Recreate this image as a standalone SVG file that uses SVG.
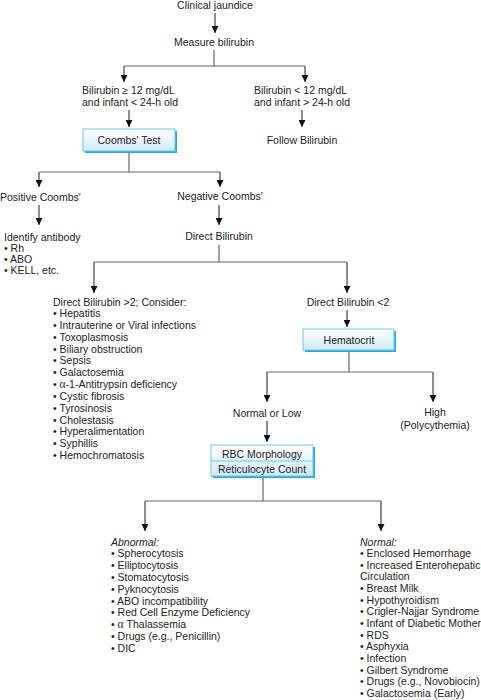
<svg xmlns="http://www.w3.org/2000/svg" width="481" height="700" viewBox="0 0 481 700">
<defs>
<linearGradient id="boxfill" x1="0" y1="0" x2="0" y2="1">
<stop offset="0" stop-color="#ffffff"/>
<stop offset="1" stop-color="#cfeaf8"/>
</linearGradient>
<marker id="arr" markerWidth="7" markerHeight="7" refX="7" refY="3.5" orient="auto" markerUnits="userSpaceOnUse">
<path d="M0,0 L7,3.5 L0,7 z" fill="#111"/>
</marker>
</defs>
<style>
text{font-family:"Liberation Sans",Arial,sans-serif;font-size:10.5px;fill:#222}
.c{text-anchor:middle}
.i{font-style:italic}
.g{font-family:"Liberation Serif","Times New Roman",serif;font-size:11.5px}
.ln{fill:none;stroke:#666;stroke-width:1.2}
.ar{fill:none;stroke:#444;stroke-width:1.2;marker-end:url(#arr)}
.sh{fill:#2aa7e0}
.bx{fill:url(#boxfill);stroke:#6cc8ee;stroke-width:1}
</style>
<rect width="481" height="700" fill="#fff"/>

<g id="connectors">
<line class="ar" x1="215" y1="13" x2="215" y2="33"/>
<polyline class="ln" points="214,50 214,66"/>
<polyline class="ar" points="124,66 124,82"/>
<line class="ln" x1="124" y1="66" x2="305" y2="66"/>
<polyline class="ar" points="305,66 305,82"/>
<line class="ar" x1="129" y1="110" x2="129" y2="127"/>
<line class="ar" x1="302" y1="110" x2="302" y2="127"/>
<line class="ln" x1="129" y1="152" x2="129" y2="172"/>
<line class="ln" x1="39" y1="172" x2="220" y2="172"/>
<polyline class="ar" points="39,172 39,187"/>
<polyline class="ar" points="220,172 220,187"/>
<line class="ar" x1="39" y1="205" x2="39" y2="225"/>
<line class="ar" x1="219" y1="205" x2="219" y2="225"/>
<line class="ln" x1="219" y1="245" x2="219" y2="262"/>
<line class="ln" x1="94" y1="262" x2="347" y2="262"/>
<polyline class="ar" points="94,262 94,293"/>
<polyline class="ar" points="347,262 347,293"/>
<line class="ar" x1="347" y1="310" x2="347" y2="327"/>
<line class="ln" x1="349" y1="351" x2="349" y2="372"/>
<line class="ln" x1="267" y1="372" x2="433" y2="372"/>
<polyline class="ar" points="267,372 267,402"/>
<polyline class="ar" points="433,372 433,402"/>
<line class="ar" x1="267" y1="421" x2="267" y2="442"/>
<line class="ln" x1="263" y1="478" x2="263" y2="501"/>
<line class="ln" x1="145" y1="501" x2="381" y2="501"/>
<polyline class="ar" points="145,501 145,531"/>
<polyline class="ar" points="381,501 381,531"/>
</g>

<g id="clinical-jaundice"><text class="c" x="215" y="9">Clinical jaundice</text></g>
<g id="measure-bilirubin"><text class="c" x="214" y="46">Measure bilirubin</text></g>
<g id="bili-high"><text x="82" y="94">Bilirubin ≥ 12 mg/dL</text><text x="82" y="106">and infant &lt; 24-h old</text></g>
<g id="bili-low"><text x="254" y="94">Bilirubin &lt; 12 mg/dL</text><text x="254" y="106">and infant &gt; 24-h old</text></g>
<g id="follow-bilirubin"><text class="c" x="302" y="144">Follow Bilirubin</text></g>
<g id="coombs-test">
<rect class="sh" x="85" y="131" width="92" height="22"/>
<rect class="bx" x="83" y="129" width="92" height="22"/>
<text class="c" x="129" y="144">Coombs' Test</text>
</g>
<g id="positive-coombs"><text x="0" y="201">Positive Coombs'</text></g>
<g id="negative-coombs"><text class="c" x="220" y="200">Negative Coombs'</text></g>
<g id="identify-antibody">
<text x="4" y="241">Identify antibody</text>
<text x="4" y="252">• Rh</text>
<text x="4" y="263">• ABO</text>
<text x="4" y="274">• KELL, etc.</text>
</g>
<g id="direct-bilirubin"><text class="c" x="219" y="240">Direct Bilirubin</text></g>
<g id="direct-high">
<text x="53" y="306">Direct Bilirubin &gt;2; Consider:</text>
<text x="53" y="317">• Hepatitis</text>
<text x="53" y="328.8">• Intrauterine or Viral infections</text>
<text x="53" y="340.7">• Toxoplasmosis</text>
<text x="53" y="352.5">• Biliary obstruction</text>
<text x="53" y="364.3">• Sepsis</text>
<text x="53" y="376.2">• Galactosemia</text>
<text x="53" y="388">• <tspan class="g">α</tspan>-1-Antitrypsin deficiency</text>
<text x="53" y="399.8">• Cystic fibrosis</text>
<text x="53" y="411.6">• Tyrosinosis</text>
<text x="53" y="423.5">• Cholestasis</text>
<text x="53" y="435.3">• Hyperalimentation</text>
<text x="53" y="447.1">• Syphillis</text>
<text x="53" y="459">• Hemochromatosis</text>
</g>
<g id="direct-low"><text class="c" x="348" y="306">Direct Bilirubin &lt;2</text></g>
<g id="hematocrit">
<rect class="sh" x="305" y="331" width="91" height="21"/>
<rect class="bx" x="303" y="329" width="91" height="21"/>
<text class="c" x="349" y="344">Hematocrit</text>
</g>
<g id="normal-or-low"><text class="c" x="267" y="417">Normal or Low</text></g>
<g id="high"><text class="c" x="435" y="416">High</text><text class="c" x="435" y="429">(Polycythemia)</text></g>
<g id="rbc-morphology">
<rect class="sh" x="213" y="447" width="102" height="31"/>
<rect class="bx" x="211" y="445" width="102" height="31"/>
<line x1="211" y1="461" x2="313" y2="461" stroke="#6cc8ee" stroke-width="1"/>
<text class="c" x="262" y="458">RBC Morphology</text>
<text class="c" x="262" y="473">Reticulocyte Count</text>
</g>
<g id="abnormal">
<text class="i" x="111" y="546">Abnormal:</text>
<text x="111" y="557">• Spherocytosis</text>
<text x="111" y="568.9">• Elliptocytosis</text>
<text x="111" y="580.8">• Stomatocytosis</text>
<text x="111" y="592.6">• Pyknocytosis</text>
<text x="111" y="604.5">• ABO incompatibility</text>
<text x="111" y="616.4">• Red Cell Enzyme Deficiency</text>
<text x="111" y="628.3">• <tspan class="g">α</tspan> Thalassemia</text>
<text x="111" y="640.1">• Drugs (e.g., Penicillin)</text>
<text x="111" y="652">• DIC</text>
</g>
<g id="normal">
<text class="i" x="360" y="546">Normal:</text>
<text x="360" y="557">• Enclosed Hemorrhage</text>
<text x="360" y="568.7">• Increased Enterohepatic</text>
<text x="360" y="580.3">Circulation</text>
<text x="360" y="592">• Breast Milk</text>
<text x="360" y="603.7">• Hypothyroidism</text>
<text x="360" y="615.3">• Crigler-Najjar Syndrome</text>
<text x="360" y="627">• Infant of Diabetic Mother</text>
<text x="360" y="638.7">• RDS</text>
<text x="360" y="650.3">• Asphyxia</text>
<text x="360" y="662">• Infection</text>
<text x="360" y="673.7">• Gilbert Syndrome</text>
<text x="360" y="685.3">• Drugs (e.g., Novobiocin)</text>
<text x="360" y="697">• Galactosemia (Early)</text>
</g>
</svg>
